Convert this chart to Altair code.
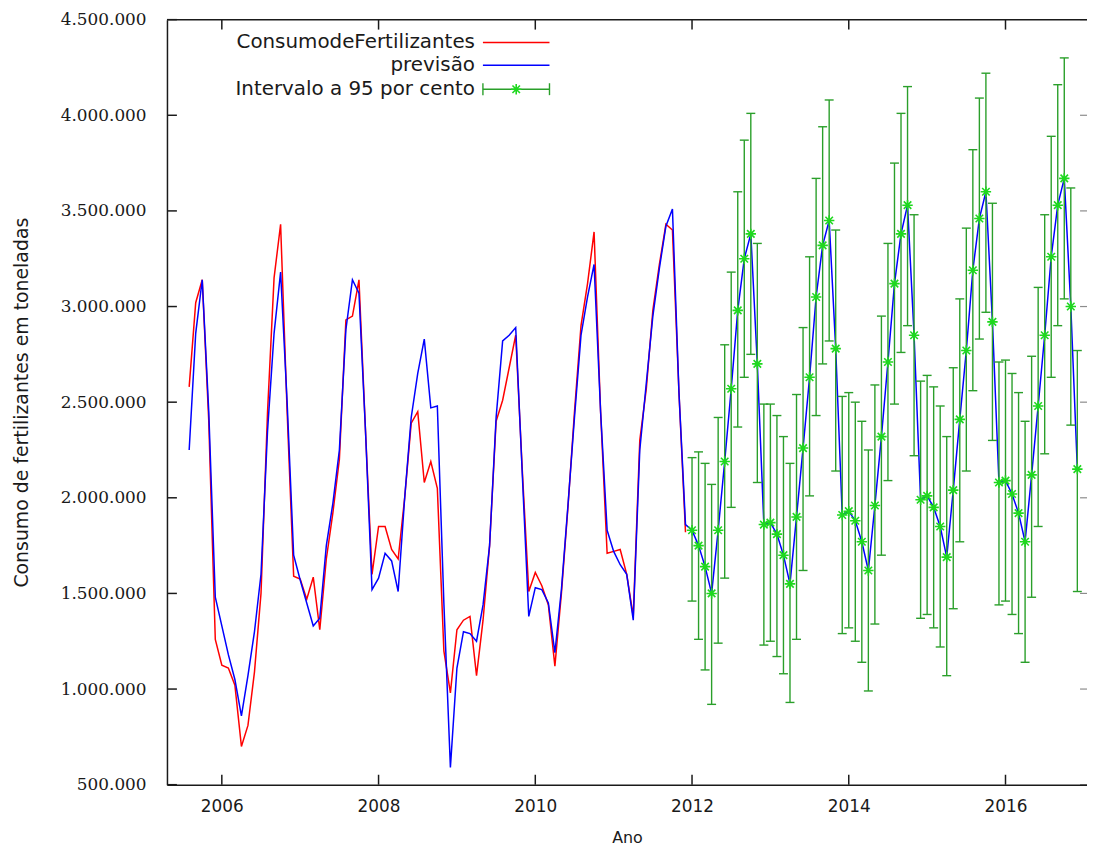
import altair as alt
import pandas as pd

# ---------------- data (values in millions of tonnes) ----------------
start_year, start_month = 2005, 8          # first observation: Aug 2005

actual = [2.58, 3.02, 3.14, 2.40, 1.26, 1.125, 1.11, 1.02, 0.70, 0.81, 1.09, 1.50,
          2.45, 3.15, 3.43, 2.45, 1.59, 1.575, 1.47, 1.585, 1.31, 1.68, 1.92, 2.20,
          2.93, 2.95, 3.14, 2.35, 1.60, 1.85, 1.85, 1.73, 1.68, 2.00, 2.39, 2.45,
          2.08, 2.19, 2.05, 1.20, 0.98, 1.31, 1.36, 1.38, 1.07, 1.36, 1.75, 2.40,
          2.51, 2.68, 2.85, 2.15, 1.51, 1.61, 1.54, 1.44, 1.12, 1.50, 1.95, 2.45,
          2.90, 3.12, 3.39, 2.45, 1.71, 1.72, 1.73, 1.60, 1.38, 2.30, 2.57, 2.98,
          3.22, 3.43, 3.40, 2.55, 1.82]

fitted = [2.25, 2.86, 3.14, 2.45, 1.48, 1.33, 1.18, 1.05, 0.86, 1.07, 1.30, 1.60,
          2.35, 2.86, 3.18, 2.50, 1.70, 1.57, 1.45, 1.33, 1.37, 1.75, 1.97, 2.25,
          2.88, 3.14, 3.07, 2.35, 1.52, 1.58, 1.71, 1.67, 1.51, 2.00, 2.42, 2.65,
          2.83, 2.47, 2.48, 1.45, 0.59, 1.11, 1.30, 1.29, 1.25, 1.44, 1.75, 2.42,
          2.82, 2.85, 2.89, 2.13, 1.38, 1.53, 1.52, 1.45, 1.19, 1.52, 1.96, 2.42,
          2.85, 3.05, 3.22, 2.45, 1.83, 1.72, 1.65, 1.60, 1.36, 2.25, 2.60, 2.95,
          3.20, 3.42, 3.51, 2.55, 1.86]

forecast = [1.83, 1.75, 1.64, 1.50, 1.83, 2.19, 2.57, 2.98, 3.25, 3.38, 2.70, 1.86,
            1.87, 1.81, 1.70, 1.55, 1.90, 2.26, 2.63, 3.05, 3.32, 3.45, 2.78, 1.91,
            1.93, 1.88, 1.77, 1.62, 1.96, 2.32, 2.71, 3.12, 3.38, 3.53, 2.85, 1.99,
            2.01, 1.95, 1.85, 1.69, 2.04, 2.41, 2.77, 3.19, 3.46, 3.60, 2.92, 2.08,
            2.09, 2.02, 1.92, 1.77, 2.12, 2.48, 2.85, 3.26, 3.53, 3.67, 3.00, 2.15]

lower = [1.46, 1.26, 1.10, 0.92, 1.24, 1.58, 1.95, 2.37, 2.63, 2.75, 2.08, 1.23,
         1.25, 1.17, 1.08, 0.93, 1.26, 1.62, 2.01, 2.43, 2.70, 2.82, 2.14, 1.29,
         1.32, 1.25, 1.14, 0.99, 1.34, 1.70, 2.09, 2.49, 2.76, 2.90, 2.22, 1.37,
         1.39, 1.32, 1.22, 1.07, 1.42, 1.77, 2.14, 2.56, 2.83, 2.97, 2.30, 1.44,
         1.46, 1.39, 1.29, 1.14, 1.48, 1.85, 2.23, 2.63, 2.90, 3.04, 2.38, 1.51]

upper = [2.21, 2.24, 2.18, 2.07, 2.42, 2.80, 3.18, 3.60, 3.87, 4.01, 3.33, 2.49,
         2.49, 2.43, 2.32, 2.18, 2.54, 2.89, 3.26, 3.67, 3.94, 4.08, 3.40, 2.53,
         2.55, 2.50, 2.40, 2.25, 2.59, 2.95, 3.33, 3.75, 4.01, 4.15, 3.48, 2.61,
         2.64, 2.58, 2.48, 2.32, 2.68, 3.04, 3.41, 3.82, 4.09, 4.22, 3.54, 2.71,
         2.72, 2.65, 2.55, 2.40, 2.74, 3.10, 3.48, 3.89, 4.16, 4.30, 3.62, 2.77]

x_ticks = [2006, 2008, 2010, 2012, 2014, 2016]
y_ticks = [500000, 1000000, 1500000, 2000000, 2500000, 3000000, 3500000, 4000000, 4500000]

legend_labels = ["ConsumodeFertilizantes", "previsão", "Intervalo a 95 por cento"]

# ---------------- tables ----------------
t0 = start_year + (start_month - 1) / 12.0
def tt(i):
    return t0 + i / 12.0

blue_vals = fitted + forecast
n_act = len(actual)
df_act = pd.DataFrame({"t": [tt(i) for i in range(n_act)],
                       "v": [a * 1e6 for a in actual]})
df_blue = pd.DataFrame({"t": [tt(i) for i in range(len(blue_vals))],
                        "v": [b * 1e6 for b in blue_vals]})
off = len(fitted)
df_int = pd.DataFrame({"t": [tt(off + i) for i in range(len(forecast))],
                       "v": [f * 1e6 for f in forecast],
                       "lo": [l * 1e6 for l in lower],
                       "hi": [u * 1e6 for u in upper]})
df_xt = pd.DataFrame({"t": x_ticks})
df_yt = pd.DataFrame({"v": y_ticks})
one = pd.DataFrame({"a": [0]})

# ---------------- style ----------------
W, H = 926, 770
RED = "#ff0000"
BLUE = "#0000ff"
GREEN = "#2a9f2a"
STAR_GREEN = "#1ed81e"
INK = "#1a1a1a"
SANS = "DejaVu Sans"
SERIF = "DejaVu Serif"
STAR = "M-1,0L1,0M0,-1L0,1M-0.72,-0.72L0.72,0.72M-0.72,0.72L0.72,-0.72"

xs = alt.Scale(domain=[2005.30, 2017.04], nice=False, zero=False)
ys = alt.Scale(domain=[500000, 4500000], nice=False, zero=False)

xaxis = alt.Axis(values=x_ticks, format="d", title="Ano", ticks=False, grid=False,
                 labelPadding=14, labelFont=SANS, labelFontSize=17, labelColor=INK,
                 labelFlush=False, domainColor=INK, domainWidth=1.5,
                 titleFont=SANS, titleFontSize=16, titleFontWeight="normal",
                 titleColor=INK, titleY=53, titleBaseline="middle")
yaxis = alt.Axis(values=y_ticks,
                 labelExpr="replace(replace(format(datum.value, ','), ',', '.'), ',', '.')",
                 title="Consumo de fertilizantes em toneladas", ticks=False, grid=False,
                 labelPadding=21, labelFont=SERIF, labelFontSize=17, labelColor=INK,
                 labelFlush=False, domainColor=INK, domainWidth=1.5,
                 titleFont=SANS, titleFontSize=19, titleFontWeight="normal",
                 titleColor=INK, titleX=-146, titleY=H / 2, titleAngle=270,
                 titleBaseline="middle", titleAlign="center")

X = alt.X("t:Q", scale=xs, axis=xaxis)
Y = alt.Y("v:Q", scale=ys, axis=yaxis)

# ---------------- data layers ----------------
red_line = alt.Chart(df_act).mark_line(color=RED, strokeWidth=1.5).encode(x=X, y=Y)
blue_line = alt.Chart(df_blue).mark_line(color=BLUE, strokeWidth=1.5).encode(x=X, y=Y)
bars = alt.Chart(df_int).mark_rule(color=GREEN, strokeWidth=1.4).encode(
    x=X, y=alt.Y("lo:Q", scale=ys, axis=yaxis), y2="hi:Q")
cap_lo = alt.Chart(df_int).mark_tick(color=GREEN, orient="horizontal", size=9,
                                     thickness=1.4, opacity=1).encode(
    x=X, y=alt.Y("lo:Q", scale=ys, axis=yaxis))
cap_hi = alt.Chart(df_int).mark_tick(color=GREEN, orient="horizontal", size=9,
                                     thickness=1.4, opacity=1).encode(
    x=X, y=alt.Y("hi:Q", scale=ys, axis=yaxis))
stars = alt.Chart(df_int).mark_point(shape=STAR, size=110, filled=False,
                                     strokeWidth=1.6, color=STAR_GREEN,
                                     opacity=1).encode(x=X, y=Y)

# ---------------- frame: inward ticks and top border ----------------
tick_left = alt.Chart(df_yt).mark_rule(color=INK, strokeWidth=1.5).encode(
    y=Y, x=alt.value(0), x2=alt.value(10))
tick_right = alt.Chart(df_yt).mark_rule(color=INK, strokeWidth=1.2, opacity=0.5).encode(
    y=Y, x=alt.value(W - 7), x2=alt.value(W))
tick_bottom = alt.Chart(df_xt).mark_rule(color=INK, strokeWidth=1.5).encode(
    x=X, y=alt.value(H), y2=alt.value(H - 10))
tick_top = alt.Chart(df_xt).mark_rule(color=INK, strokeWidth=1.5).encode(
    x=X, y=alt.value(0), y2=alt.value(10))
top_border = alt.Chart(one).mark_rule(color=INK, strokeWidth=1.5).encode(
    x=alt.value(0), x2=alt.value(W), y=alt.value(0))

# ---------------- legend (gnuplot style: text, then sample) ----------------
LX_TEXT, LX0, LX1 = 310, 318, 385
LROWS = [23, 46, 70]
leg = []
for lab, yy in zip(legend_labels, LROWS):
    leg.append(alt.Chart(one).mark_text(text=lab, align="right", baseline="middle",
                                        font=SANS, fontSize=20, color=INK).encode(
        x=alt.value(LX_TEXT), y=alt.value(yy)))
leg.append(alt.Chart(one).mark_rule(color=RED, strokeWidth=1.5).encode(
    x=alt.value(LX0), x2=alt.value(LX1), y=alt.value(LROWS[0])))
leg.append(alt.Chart(one).mark_rule(color=BLUE, strokeWidth=1.5).encode(
    x=alt.value(LX0), x2=alt.value(LX1), y=alt.value(LROWS[1])))
leg.append(alt.Chart(one).mark_rule(color=GREEN, strokeWidth=1.4).encode(
    x=alt.value(LX0), x2=alt.value(LX1), y=alt.value(LROWS[2])))
leg.append(alt.Chart(one).mark_rule(color=GREEN, strokeWidth=1.4).encode(
    x=alt.value(LX0), y=alt.value(LROWS[2] - 6), y2=alt.value(LROWS[2] + 6)))
leg.append(alt.Chart(one).mark_rule(color=GREEN, strokeWidth=1.4).encode(
    x=alt.value(LX1), y=alt.value(LROWS[2] - 6), y2=alt.value(LROWS[2] + 6)))
leg.append(alt.Chart(one).mark_point(shape=STAR, size=110, filled=False,
                                     strokeWidth=1.6, color=STAR_GREEN,
                                     opacity=1).encode(
    x=alt.value((LX0 + LX1) / 2), y=alt.value(LROWS[2])))

chart = alt.layer(
    red_line, blue_line, bars, cap_lo, cap_hi, stars,
    tick_left, tick_right, tick_bottom, tick_top, top_border, *leg
).properties(
    width=W, height=H,
    autosize=alt.AutoSizeParams(type="none"),
    padding={"left": 160, "top": 9, "right": 0, "bottom": 61},
    background="white",
).configure_view(stroke=None)

chart.save("out.html", embed_options={"renderer": "svg", "actions": False})
